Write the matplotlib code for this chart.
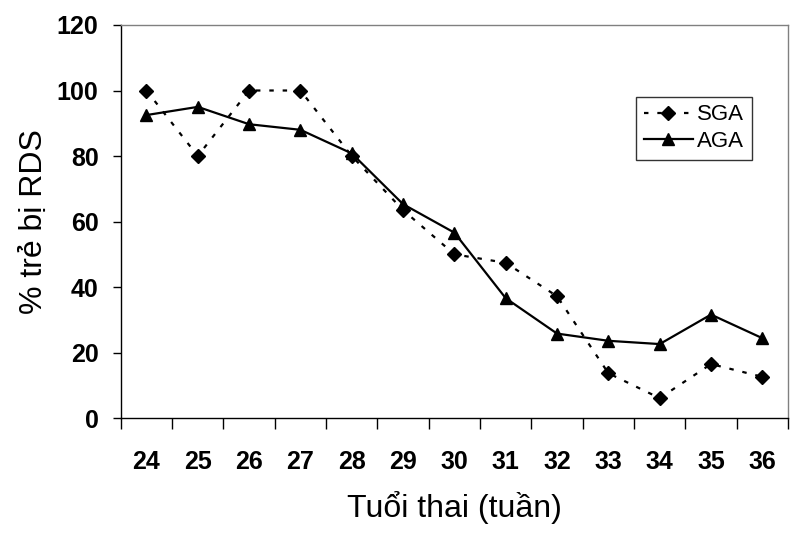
import matplotlib.pyplot as plt
import numpy as np

plt.rcParams['font.family'] = ['Liberation Sans', 'DejaVu Sans']

# Gestational age categories (weeks)
weeks = ['24', '25', '26', '27', '28', '29', '30', '31', '32', '33', '34', '35', '36']

# % infants with RDS
sga = [100, 80, 100, 100, 80, 63.5, 50, 47.4, 37.2, 13.7, 6.1, 16.5, 12.6]
aga = [92.5, 95, 89.7, 88, 80.8, 65.3, 56.6, 36.6, 25.8, 23.6, 22.6, 31.6, 24.4]

fig = plt.figure(figsize=(8, 5.43), dpi=100)
ax = fig.add_axes([0.151, 0.230, 0.834, 0.724])

x = np.arange(len(weeks))
ax.plot(x, sga, color='black', linestyle=(0, (2, 4)), linewidth=1.6,
        marker='D', markersize=7, label='SGA')
ax.plot(x, aga, color='black', linestyle='-', linewidth=1.6,
        marker='^', markersize=9, label='AGA')

ax.set_xlim(-0.5, len(weeks) - 0.5)
ax.set_ylim(0, 120)
ax.set_yticks(range(0, 121, 20))

# category labels centred, tick marks between categories
ax.set_xticks(x)
ax.set_xticklabels(weeks, fontsize=18, fontweight='bold')
ax.set_xticks(np.arange(-0.5, len(weeks), 1), minor=True)
ax.tick_params(axis='x', which='major', length=0, pad=23)
ax.tick_params(axis='x', which='minor', length=8, width=1, direction='out')
ax.tick_params(axis='y', length=6, width=1, direction='out', pad=10, labelsize=18)
for lbl in ax.get_yticklabels():
    lbl.set_fontweight('bold')

for side in ['left', 'bottom']:
    ax.spines[side].set_color('black')
    ax.spines[side].set_linewidth(1)
for side in ['top', 'right']:
    ax.spines[side].set_color('#808080')
    ax.spines[side].set_linewidth(1)

ax.set_xlabel('Tuổi thai (tuần)', fontsize=23, labelpad=12)
ax.set_ylabel('% trẻ bị RDS', fontsize=23, labelpad=6)

leg = ax.legend(loc='upper left', bbox_to_anchor=(0.772, 0.818), fontsize=16,
                frameon=True, fancybox=False, handlelength=2.2,
                handletextpad=0.2, borderpad=0.35, labelspacing=0.25,
                borderaxespad=0)
leg.get_frame().set_edgecolor('black')
leg.get_frame().set_linewidth(1)

plt.savefig('out.png', dpi=100)
